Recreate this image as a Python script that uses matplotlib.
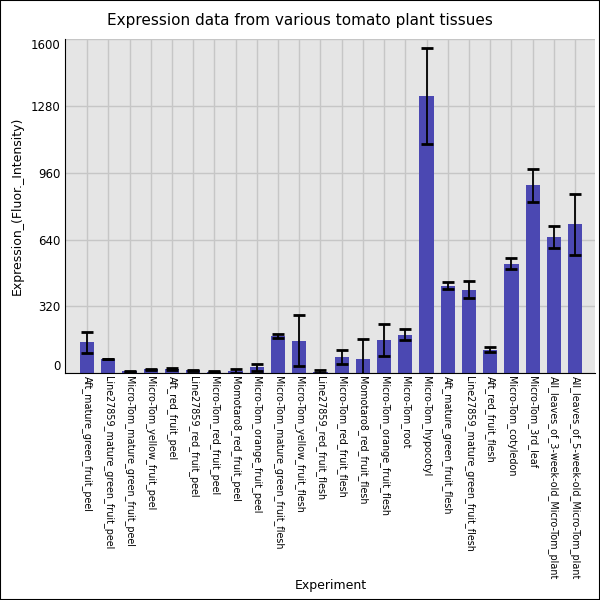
import matplotlib
matplotlib.use('Agg')
import matplotlib.pyplot as plt
import numpy as np

tissues = [
    "Aft_mature_green_fruit_peel",
    "Line27859_mature_green_fruit_peel",
    "Micro-Tom_mature_green_fruit_peel",
    "Micro-Tom_yellow_fruit_peel",
    "Aft_red_fruit_peel",
    "Line27859_red_fruit_peel",
    "Micro-Tom_red_fruit_peel",
    "Momotaro8_red_fruit_peel",
    "Micro-Tom_orange_fruit_peel",
    "Micro-Tom_mature_green_fruit_flesh",
    "Micro-Tom_yellow_fruit_flesh",
    "Line27859_red_fruit_flesh",
    "Micro-Tom_red_fruit_flesh",
    "Momotaro8_red_fruit_flesh",
    "Micro-Tom_orange_fruit_flesh",
    "Micro-Tom_root",
    "Micro-Tom_hypocotyl",
    "Aft_mature_green_fruit_flesh",
    "Line27859_mature_green_fruit_flesh",
    "Aft_red_fruit_flesh",
    "Micro-Tom_cotyledon",
    "Micro-Tom_3rd_leaf",
    "All_leaves_of_3-week-old_Micro-Tom_plant",
    "All_leaves_of_5-week-old_Micro-Tom_plant",
]
expression = [147, 68, 10, 18, 20, 13, 8, 10, 29, 178, 156, 8,
              78, 67, 158, 185, 1326, 418, 400, 112, 525, 900, 652, 713]
errors = [50, 2, 2, 3, 5, 3, 2, 8, 17, 9, 121, 6,
          33, 99, 78, 28, 230, 17, 40, 12, 28, 78, 52, 145]
yticks = [0, 320, 640, 960, 1280, 1600]

fig = plt.figure(figsize=(6, 6), dpi=100)
ax = fig.add_axes([0.108, 0.378, 0.884, 0.557])
ax.set_facecolor('#e5e5e5')

x = np.arange(len(tissues))
ax.bar(x, expression, width=0.67, color='#4b48b2', zorder=2)
ax.errorbar(x, expression, yerr=errors, fmt='none', ecolor='black',
            elinewidth=1.3, capsize=4.5, capthick=2, zorder=3)

ax.set_xlim(-1.05, 23.95)
ax.set_ylim(0, 1600)
ax.set_yticks(yticks)
ax.set_xticks(x)
ax.set_xticklabels(tissues, rotation=270, fontsize=6.9, va='top', ha='center')
ax.tick_params(axis='both', length=0)
ax.tick_params(axis='y', labelsize=8.5, pad=3)
ax.tick_params(axis='x', pad=2)
ylabs = ax.get_yticklabels()
ylabs[0].set_va('bottom')
ylabs[-1].set_va('top')

ax.grid(True, color='#c6c6c6', linewidth=1, zorder=0)
ax.set_axisbelow(True)
for s in ['top', 'right']:
    ax.spines[s].set_visible(False)
ax.spines['left'].set_color('black')
ax.spines['bottom'].set_color('black')

ax.set_ylabel("Expression_(Fluor._Intensity)", fontsize=9)
ax.yaxis.set_label_coords(-0.077, 0.5)
fig.text(0.552, 0.025, "Experiment", fontsize=9, ha='center', va='center')
fig.text(0.5, 0.965, "Expression data from various tomato plant tissues",
         fontsize=11, ha='center', va='center')

fig.patches.append(plt.Rectangle((0, 0), 1, 1, transform=fig.transFigure,
                                 fill=False, edgecolor='black', linewidth=1.5))
fig.savefig('out.png', dpi=100)
